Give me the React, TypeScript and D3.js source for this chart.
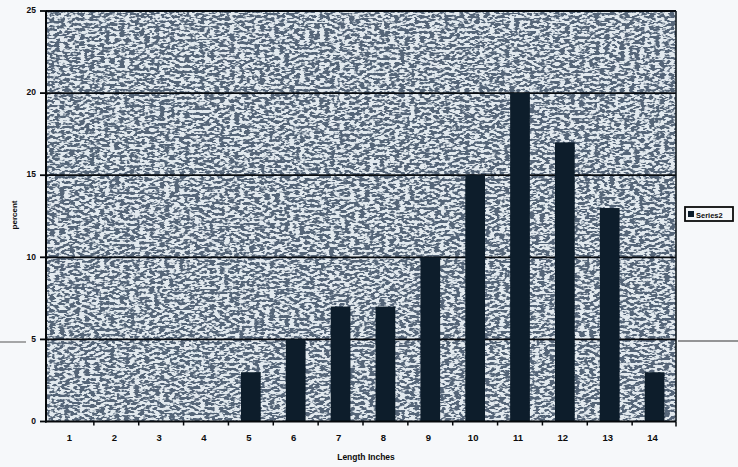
import { useMemo } from "react";
import * as d3 from "d3";

const CATEGORIES = ["1", "2", "3", "4", "5", "6", "7", "8", "9", "10", "11", "12", "13", "14"];
const SERIES2 = [0, 0, 0, 0, 3, 5, 7, 7, 10, 15, 20, 17, 13, 3];
const Y_TICKS = [0, 5, 10, 15, 20, 25];

export default function App() {
  const width = 738;
  const height = 467;
  const plot = { left: 46, right: 676, top: 11, bottom: 421.5 };

  // category bands (scan is a bit skewed, so bands start slightly right of the frame)
  const xBand = useMemo(() => d3.scaleBand().domain(CATEGORIES).range([49, 677]), []);
  const x = useMemo(
    () => d3.scaleBand().domain(CATEGORIES).range([49, 677]).paddingInner(0.56).paddingOuter(0.28),
    []
  );
  const y = useMemo(() => d3.scaleLinear().domain([0, 25]).range([plot.bottom, plot.top]), []);

  const font = "'Liberation Sans', Arial, sans-serif";

  return (
    <svg
      width={width}
      height={height}
      style={{ position: "absolute", left: 0, top: 0, background: "#f6f8fa" }}
    >
      <defs>
        <filter id="grain" x="0" y="0" width="1" height="1" filterUnits="objectBoundingBox">
          <feTurbulence type="fractalNoise" baseFrequency="0.2 0.38" numOctaves="2" seed="11" result="n" />
          <feColorMatrix
            in="n"
            type="matrix"
            values="0 0 0 0 0.09  0 0 0 0 0.13  0 0 0 0 0.19  9 0 0 0 -4.0"
            result="dots"
          />
          <feGaussianBlur in="dots" stdDeviation="0.35" />
        </filter>
      </defs>

      {/* plot background */}
      <rect
        x={plot.left}
        y={plot.top}
        width={plot.right - plot.left}
        height={plot.bottom - plot.top}
        fill="#e2e9ee"
      />
      <rect
        x={plot.left}
        y={plot.top}
        width={plot.right - plot.left}
        height={plot.bottom - plot.top}
        fill="#000"
        filter="url(#grain)"
      />

      {/* gridlines */}
      {Y_TICKS.slice(1).map((t) => (
        <line key={t} x1={plot.left} x2={plot.right} y1={y(t)} y2={y(t)} stroke="#070b10" strokeWidth={1.8} />
      ))}

      {/* bars */}
      {SERIES2.map((v, i) =>
        v > 0 ? (
          <rect
            key={CATEGORIES[i]}
            x={x(CATEGORIES[i])}
            y={y(v)}
            width={x.bandwidth()}
            height={y(0) - y(v)}
            fill="#0d1d2b"
          />
        ) : null
      )}

      {/* frame */}
      <line x1={plot.right} x2={plot.right} y1={plot.top} y2={plot.bottom} stroke="#11181f" strokeWidth={1.6} />
      <line x1={plot.left} x2={plot.left} y1={plot.top} y2={plot.bottom + 1} stroke="#05080b" strokeWidth={2} />
      <line x1={plot.left - 1} x2={plot.right} y1={plot.bottom} y2={plot.bottom} stroke="#05080b" strokeWidth={2} />

      {/* y ticks */}
      {Y_TICKS.map((t) => (
        <g key={t}>
          <line x1={plot.left - 6} x2={plot.left} y1={y(t)} y2={y(t)} stroke="#05080b" strokeWidth={1.8} />
          <text
            x={plot.left - 10}
            y={y(t)}
            textAnchor="end"
            dominantBaseline="middle"
            fontFamily={font}
            fontWeight={700}
            fontSize={8.5}
            fill="#0c0c0c"
          >
            {t}
          </text>
        </g>
      ))}

      {/* x ticks */}
      {CATEGORIES.map((c, i) => (
        <g key={c}>
          {i > 0 && (
            <line
              x1={xBand(c)}
              x2={xBand(c)}
              y1={plot.bottom}
              y2={plot.bottom + 4}
              stroke="#05080b"
              strokeWidth={1.5}
            />
          )}
          <text
            x={(xBand(c) ?? 0) + xBand.bandwidth() / 2 - 2}
            y={plot.bottom + 19}
            textAnchor="middle"
            fontFamily={font}
            fontWeight={700}
            fontSize={9.5}
            fill="#0c0c0c"
          >
            {c}
          </text>
        </g>
      ))}
      <line x1={plot.right} x2={plot.right} y1={plot.bottom} y2={plot.bottom + 5} stroke="#05080b" strokeWidth={1.5} />

      {/* axis titles */}
      <text
        x={366}
        y={460}
        textAnchor="middle"
        fontFamily={font}
        fontWeight={700}
        fontSize={8.5}
        fill="#0c0c0c"
      >
        Length Inches
      </text>
      <text
        transform={`translate(15, 215) rotate(-90)`}
        textAnchor="middle"
        dominantBaseline="middle"
        fontFamily={font}
        fontWeight={700}
        fontSize={8}
        fill="#0c0c0c"
      >
        percent
      </text>

      {/* legend */}
      <rect x={685} y={207} width={48} height={14} fill="#f6f8fa" stroke="#0c0c0c" strokeWidth={1.8} />
      <rect x={688} y={211} width={6} height={6} fill="#0d1d2b" />
      <text x={696} y={217.5} fontFamily={font} fontWeight={700} fontSize={7.5} fill="#0c0c0c">
        Series2
      </text>

      {/* scan artifacts */}
      <line x1={0} x2={26} y1={342} y2={342} stroke="#555" strokeWidth={1} />
      <line x1={678} x2={738} y1={341} y2={341} stroke="#333" strokeWidth={1} />
    </svg>
  );
}
